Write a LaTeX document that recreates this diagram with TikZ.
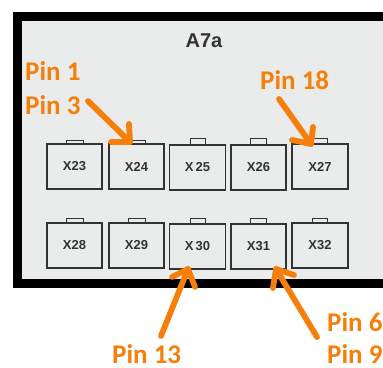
\documentclass[tikz,border=0pt]{standalone}
\usepackage{fontspec}
\setmainfont{Liberation Sans}
\newfontfamily\pinfont{Carlito}
\usetikzlibrary{arrows.meta}
\definecolor{pinor}{HTML}{F57F0A}
\definecolor{panelg}{HTML}{EAEBEB}
\definecolor{boxline}{HTML}{333333}
\tikzset{
  x=1pt,y=-1pt,
  conn/.style={draw=boxline,line width=1.2pt,fill=panelg,minimum height=45pt,inner sep=0pt,font=\bfseries\fontsize{13}{13}\selectfont,text=black!80},
  tabrect/.style={draw=boxline,line width=1pt,fill=panelg},
  pinlabel/.style={text=pinor,font=\pinfont\bfseries\fontsize{27}{27}\selectfont,inner sep=0pt,anchor=base west},
  pinarrow/.style={draw=pinor,line width=5.8pt,line cap=round,line join=round},
}
\begin{document}
\begin{tikzpicture}
\useasboundingbox (0,0) rectangle (383,367);
\fill[white] (0,0) rectangle (383,367);
\fill[black] (13,12) rectangle (383,288);
\fill[panelg] (22,21) rectangle (383,279);
\node[font=\bfseries\fontsize{20}{20}\selectfont,text=black!80] (title) at (204,41) {A7a};
% tabs
\foreach \xa/\xb/\ya in {66/83/140,128/145/140,190/205/138,250/266/138,312/327/138}{
  \draw[tabrect] (\xa,\ya) rectangle (\xb,145);
}
\foreach \xa/\xb in {66/83,128/145,190/205,250/266,312/327}{
  \draw[tabrect] (\xa,218) rectangle (\xb,224);
}
% connectors
\node[conn,minimum width=55pt] (x23) at (74.5,166.5) {X23};
\node[conn,minimum width=55pt] (x24) at (136.5,166.5) {X24};
\node[conn,minimum width=56pt] (x25) at (197.5,167.5) {X\,25};
\node[conn,minimum width=55pt] (x26) at (258.5,167.5) {X26};
\node[conn,minimum width=56pt] (x27) at (320,166.5) {X27};
\node[conn,minimum width=55pt] (x28) at (74.5,245.5) {X28};
\node[conn,minimum width=55pt] (x29) at (136.5,245.5) {X29};
\node[conn,minimum width=56pt] (x30) at (197.5,246.5) {X\,30};
\node[conn,minimum width=55pt] (x31) at (258.5,246.5) {X31};
\node[conn,minimum width=56pt] (x32) at (320,245.5) {X32};
% labels
\node[pinlabel] (p1) at (25,80) {Pin 1};
\node[pinlabel] (p3) at (25,114) {Pin 3};
\node[pinlabel] (p18) at (260,89) {Pin 18};
\node[pinlabel] (p13) at (112,363) {Pin 13};
\node[pinlabel] (p6) at (327,331) {Pin 6};
\node[pinlabel] (p9) at (327,363) {Pin 9};
% arrows
\coordinate (a3) at (88,101);
\coordinate (a18) at (279,99);
\coordinate (a13) at (161,336);
\coordinate (a6) at (317,337);
\coordinate (t24) at (130,142);
\coordinate (t27) at (311,144);
\coordinate (t30) at (188,269);
\coordinate (t31) at (276,269);
\draw[pinarrow] (a3) -- (t24);
\draw[pinarrow] (129,124) -- (t24) -- (111,142);
\draw[pinarrow] (a18) -- (t27);
\draw[pinarrow] (313,127) -- (t27) -- (292,140);
\draw[pinarrow] (a13) -- (t30);
\draw[pinarrow] (172,277) -- (t30) -- (195,287);
\draw[pinarrow] (a6) -- (t31);
\draw[pinarrow] (294,275) -- (t31) -- (273,288);
\end{tikzpicture}
\end{document}
